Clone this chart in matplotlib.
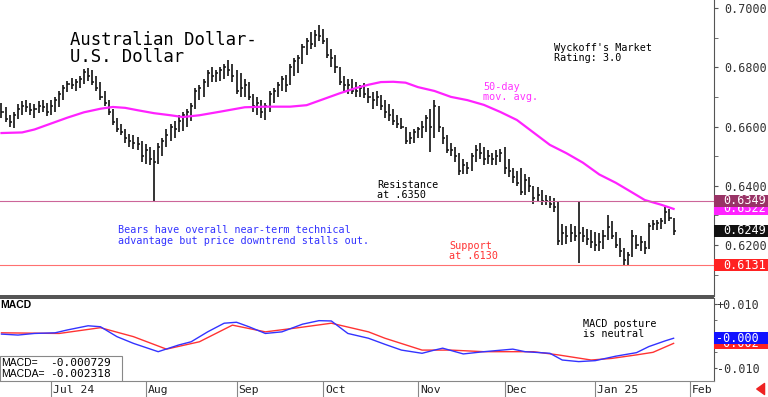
import matplotlib
matplotlib.use("Agg")
import matplotlib.pyplot as plt
import matplotlib.transforms as mtransforms
from matplotlib.patches import Rectangle
from matplotlib.ticker import FixedLocator, FormatStrFormatter
import pandas as pd

plt.rcParams['font.family'] = ['DejaVu Sans Mono']

# ---- data (daily bars, trading-day index 0 = 2024-06-13) ----
start_date = '2024-06-13'
highs = [.6680, .6665, .6640, .6650, .6675, .6685, .6690, .6680, .6675, .6685,
         .6690, .6680, .6690, .6700, .6720, .6740, .6755, .6765, .6760, .6770,
         .6795, .6798, .6790, .6770, .6750, .6720, .6690, .6660, .6630, .6610,
         .6590, .6575, .6570, .6565, .6550, .6540, .6530, .6520, .6545, .6560,
         .6590, .6610, .6620, .6640, .6650, .6660, .6680, .6730, .6740, .6760,
         .6790, .6800, .6790, .6800, .6810, .6824, .6810, .6790, .6780, .6760,
         .6750, .6710, .6700, .6690, .6680, .6720, .6730, .6750, .6770, .6775,
         .6810, .6830, .6840, .6880, .6900, .6920, .6925, .6942, .6930, .6900,
         .6860, .6840, .6800, .6770, .6760, .6760, .6750, .6740, .6747, .6730,
         .6716, .6720, .6705, .6690, .6675, .6660, .6640, .6630, .6600, .6580,
         .6590, .6600, .6620, .6640, .6660, .6688, .6670, .6600, .6570, .6545,
         .6530, .6510, .6490, .6480, .6510, .6537, .6545, .6530, .6520, .6510,
         .6520, .6525, .6530, .6490, .6460, .6450, .6460, .6440, .6430, .6400,
         .6395, .6385, .6370, .6365, .6360, .6345, .6270, .6265, .6270, .6265,
         .6350, .6260, .6255, .6250, .6245, .6240, .6250, .6300, .6280, .6245,
         .6225, .6190, .6175, .6250, .6235, .6230, .6215, .6275, .6285, .6285,
         .6290, .6328, .6320, .6290]
lows = [.6630, .6615, .6600, .6595, .6625, .6640, .6650, .6640, .6630, .6645,
        .6650, .6635, .6640, .6650, .6665, .6690, .6715, .6725, .6720, .6730,
        .6745, .6755, .6740, .6720, .6690, .6670, .6640, .6605, .6580, .6570,
        .6545, .6530, .6525, .6520, .6480, .6475, .6470, .6348, .6475, .6500,
        .6530, .6550, .6560, .6580, .6585, .6600, .6620, .6660, .6690, .6700,
        .6735, .6750, .6750, .6755, .6760, .6770, .6750, .6710, .6700, .6700,
        .6690, .6650, .6640, .6630, .6622, .6650, .6680, .6700, .6720, .6715,
        .6740, .6770, .6780, .6810, .6840, .6860, .6870, .6890, .6880, .6830,
        .6800, .6780, .6740, .6720, .6710, .6710, .6700, .6700, .6696, .6680,
        .6660, .6670, .6656, .6630, .6620, .6605, .6595, .6590, .6540, .6540,
        .6545, .6560, .6560, .6580, .6515, .6560, .6580, .6540, .6510, .6500,
        .6480, .6436, .6440, .6440, .6450, .6480, .6490, .6470, .6475, .6470,
        .6470, .6480, .6440, .6430, .6410, .6400, .6370, .6370, .6380, .6340,
        .6345, .6335, .6335, .6325, .6310, .6200, .6200, .6205, .6210, .6215,
        .6140, .6210, .6200, .6190, .6180, .6180, .6185, .6217, .6220, .6190,
        .6160, .6131, .6131, .6160, .6185, .6180, .6170, .6185, .6250, .6250,
        .6255, .6270, .6280, .6235]
closes = [.6650, .6625, .6615, .6640, .6660, .6670, .6665, .6655, .6660, .6670,
          .6665, .6650, .6670, .6690, .6710, .6730, .6745, .6740, .6750, .6760,
          .6785, .6770, .6750, .6730, .6700, .6680, .6650, .6615, .6590, .6580,
          .6560, .6550, .6545, .6540, .6500, .6520, .6490, .6480, .6530, .6550,
          .6570, .6600, .6590, .6620, .6640, .6650, .6670, .6720, .6730, .6750,
          .6780, .6770, .6780, .6790, .6800, .6790, .6770, .6720, .6730, .6740,
          .6700, .6670, .6680, .6650, .6670, .6710, .6720, .6740, .6760, .6740,
          .6800, .6820, .6830, .6870, .6890, .6880, .6910, .6905, .6890, .6840,
          .6830, .6800, .6750, .6740, .6740, .6720, .6720, .6730, .6710, .6700,
          .6690, .6700, .6670, .6650, .6640, .6620, .6610, .6600, .6550, .6560,
          .6580, .6590, .6600, .6630, .6600, .6670, .6600, .6560, .6520, .6520,
          .6500, .6450, .6470, .6460, .6500, .6520, .6510, .6490, .6500, .6490,
          .6500, .6510, .6460, .6450, .6430, .6410, .6380, .6420, .6400, .6360,
          .6370, .6350, .6350, .6340, .6330, .6215, .6240, .6230, .6240, .6230,
          .6240, .6230, .6220, .6210, .6200, .6210, .6230, .6260, .6230, .6200,
          .6180, .6150, .6165, .6230, .6200, .6210, .6190, .6265, .6270, .6275,
          .6280, .6310, .6290, .6249]

ma_idx = [0, 5, 8, 12, 16, 20, 24, 27, 30, 33, 37, 41, 44, 48, 53, 59, 64, 70,
          74, 78, 82, 86, 89, 92, 95, 98, 101, 105, 109, 113, 117, 121, 125,
          129, 133, 137, 141, 145, 149, 153, 156, 160, 163]
ma_vals = [.6578, .6580, .6590, .6610, .6630, .6648, .6660, .6666, .6663, .6655,
           .6645, .6638, .6632, .6638, .6650, .6665, .6667, .6667, .6672, .6692,
           .6712, .6730, .6741, .6750, .6751, .6748, .6733, .6720, .6700, .6689,
           .6673, .6649, .6622, .6580, .6538, .6510, .6478, .6438, .6410, .6377,
           .6352, .6336, .6322]

macd_idx = [0, 4, 8, 13, 16, 21, 24, 28, 32, 38, 43, 46, 50, 54, 57, 60, 64, 68,
            73, 77, 80, 84, 89, 93, 97, 102, 105, 107, 112, 117, 124, 127, 133,
            136, 140, 144, 149, 154, 157, 161, 163]
macd_vals = [.0006, .0003, .0008, .0010, .0019, .0032, .0029, -.0002, -.0023,
             -.0049, -.0028, -.0018, .0013, .0040, .0043, .0029, .0008, .0013,
             .0037, .0048, .0047, .0008, -.0007, -.0026, -.0044, -.0054, -.0044,
             -.0038, -.0056, -.0049, -.0041, -.0049, -.0054, -.0075, -.0080,
             -.0077, -.0063, -.0052, -.0033, -.0015, -.0007]
sig_idx = [0, 14, 24, 32, 40, 48, 56, 64, 72, 80, 89, 93, 102, 109, 117, 129,
           135, 143, 148, 154, 158, 163]
sig_vals = [.0010, .0008, .0026, -.0002, -.0041, -.0018, .0034, .0013, .0026,
            .0040, .0013, -.0007, -.0044, -.0044, -.0049, -.0049, -.0059, -.0075,
            -.0070, -.0059, -.0051, -.0023]

resistance = 0.6349
support = 0.6131
last_close = 0.6249
last_ma = 0.6322
macd_last = -0.000729
macda_last = -0.002318
price_ticks = [0.62, 0.64, 0.66, 0.68, 0.70]
month_names = ['Jul 24', 'Aug', 'Sep', 'Oct', 'Nov', 'Dec', 'Jan 25', 'Feb']

# ---- layout helpers (pixel -> figure fraction) ----
W, H = 768, 397
def fx(x): return x / W
def fy(y): return 1 - y / H

def trunc3(v):
    # chart shows the value cut to 3 decimals, not rounded
    s = f'{v:.6f}'
    return s[:s.index('.') + 4]

fig = plt.figure(figsize=(7.68, 3.97), dpi=100)
ax_p = fig.add_axes([0, fy(296), fx(714), fy(0) - fy(296)])
ax_m = fig.add_axes([0, fy(381), fx(714), fy(298) - fy(381)])
ax_d = fig.add_axes([0, 0, fx(714), fy(381)])

xlim = (-0.36, 172.8)
n = len(closes)
xs = list(range(n))

# ---- price panel ----
ax_p.vlines(xs, lows, highs, color='#111111', lw=1.2)
ax_p.hlines(closes, [x for x in xs], [x + 0.5 for x in xs], color='#111111', lw=1.1)
ax_p.plot(ma_idx, ma_vals, color='#ff22ff', lw=1.6)
ax_p.axhline(resistance, color='#cc6699', lw=0.8)
ax_p.axhline(support, color='#ff7070', lw=0.8)
ax_p.set_xlim(*xlim)
ax_p.set_ylim(0.6028, 0.7027)
for s in ['top', 'left', 'bottom']:
    ax_p.spines[s].set_visible(False)
ax_p.spines['right'].set_color('#555555')
ax_p.set_xticks([])
ax_p.yaxis.tick_right()
ax_p.yaxis.set_major_locator(FixedLocator(price_ticks))
ax_p.yaxis.set_minor_locator(FixedLocator([0.61, 0.63, 0.65, 0.67, 0.69]))
ax_p.yaxis.set_major_formatter(FormatStrFormatter('%.4f'))
ax_p.tick_params(axis='y', which='both', direction='out', length=3,
                 color='#555555', labelsize=8.5, labelcolor='#333333', pad=4.5)

def label_box(ax, y, text, fc, px_per_unit, xt, z, tc='white'):
    tr = mtransforms.blended_transform_factory(ax.transAxes, ax.transData)
    h = 12 / px_per_unit
    ax.add_patch(Rectangle((1.0, y - h / 2), 54 / 714, h, transform=tr,
                           fc=fc, ec='none', clip_on=False, zorder=z))
    ax.text(xt, y, text, transform=tr, color=tc, fontsize=8.5, va='center',
            ha='left', clip_on=False, zorder=z + 0.5)

ppu_p = 296 / (0.7027 - 0.6028)
label_box(ax_p, last_ma, f'{last_ma:.4f}', '#ff22ff', ppu_p, 723 / 714, 10)
label_box(ax_p, resistance, f'{resistance:.4f}', '#993366', ppu_p, 723 / 714, 12)
label_box(ax_p, last_close, f'{last_close:.4f}', '#111111', ppu_p, 723 / 714, 12)
label_box(ax_p, support, f'{support:.4f}', '#ff2222', ppu_p, 723 / 714, 12)

# ---- MACD panel ----
ax_m.plot(sig_idx, sig_vals, color='#ff3333', lw=1.0)
ax_m.plot(macd_idx, macd_vals, color='#3333ff', lw=1.0)
ax_m.set_xlim(*xlim)
ax_m.set_ylim(-0.01406, 0.01188)
for s in ['top', 'left']:
    ax_m.spines[s].set_visible(False)
ax_m.spines['right'].set_color('#555555')
ax_m.spines['bottom'].set_color('#888888')
ax_m.set_xticks([])
ax_m.yaxis.tick_right()
ax_m.set_yticks([0.01, -0.01])
ax_m.set_yticklabels(['+0.010', '-0.010'])
ax_m.yaxis.set_minor_locator(FixedLocator([-0.005, 0.0, 0.005]))
ax_m.tick_params(axis='y', which='both', direction='out', length=2,
                 color='#555555', labelsize=8.5, labelcolor='#333333', pad=0)

ppu_m = 83 / (0.01188 + 0.01406)
label_box(ax_m, macda_last, trunc3(macda_last), '#ff2222', ppu_m, 716 / 714, 10)
label_box(ax_m, macd_last, trunc3(macd_last), '#1111ff', ppu_m, 716 / 714, 12)

ax_m.text(0.0, (381 - 308) / 83, 'MACD', transform=ax_m.transAxes,
          family='Liberation Sans', weight='bold', fontsize=7.5, va='baseline')
ax_m.add_patch(Rectangle((0, 0), 122 / 714, (381 - 356) / 83, transform=ax_m.transAxes,
                         fc='white', ec='#888888', lw=0.8, zorder=5))
ax_m.text(1 / 714, (381 - 366) / 83, 'MACD=', transform=ax_m.transAxes,
          family='Liberation Sans', fontsize=7.5, va='baseline', zorder=6)
ax_m.text(1 / 714, (381 - 377) / 83, 'MACDA=', transform=ax_m.transAxes,
          family='Liberation Sans', fontsize=7.5, va='baseline', zorder=6)
ax_m.text(50 / 714, (381 - 366) / 83, f'{macd_last:.6f}', transform=ax_m.transAxes,
          fontsize=8, va='baseline', zorder=6)
ax_m.text(50 / 714, (381 - 377) / 83, f'{macda_last:.6f}', transform=ax_m.transAxes,
          fontsize=8, va='baseline', zorder=6)

# ---- date strip ----
dates = pd.bdate_range(start_date, periods=175)
month_pos = [i for i in range(1, len(dates)) if dates[i].month != dates[i - 1].month]
ax_d.set_xlim(*xlim)
ax_d.set_ylim(0, 1)
ax_d.axis('off')
for pos, name in zip(month_pos, month_names):
    ax_d.axvline(pos, color='#888888', lw=0.8)
    ax_d.text(pos + 0.5, 4 / 16, name, fontsize=8.2, va='baseline', ha='left',
              color='#222222')

# separator band between panels
fig.patches.append(Rectangle((0, fy(298.5)), fx(714), fy(295) - fy(298.5),
                             transform=fig.transFigure, fc='#555555', ec='none'))

# ---- annotations ----
fig.text(fx(70), fy(45), 'Australian Dollar-', fontsize=12.4, va='baseline')
fig.text(fx(70), fy(62), 'U.S. Dollar', fontsize=12.4, va='baseline')
fig.text(fx(554), fy(51), "Wyckoff's Market", fontsize=7.3, va='baseline')
fig.text(fx(554), fy(61), 'Rating: 3.0', fontsize=7.3, va='baseline')
fig.text(fx(483), fy(89.5), '50-day', fontsize=7.3, va='baseline', color='#ff33ff')
fig.text(fx(483), fy(100), 'mov. avg.', fontsize=7.3, va='baseline', color='#ff33ff')
fig.text(fx(377), fy(188), 'Resistance', fontsize=7.3, va='baseline')
fig.text(fx(377), fy(198), 'at .6350', fontsize=7.3, va='baseline')
fig.text(fx(449), fy(249), 'Support', fontsize=7.3, va='baseline', color='#ff3333')
fig.text(fx(449), fy(259), 'at .6130', fontsize=7.3, va='baseline', color='#ff3333')
fig.text(fx(118), fy(233), 'Bears have overall near-term technical',
         fontsize=7.3, va='baseline', color='#3333ff')
fig.text(fx(118), fy(244), 'advantage but price downtrend stalls out.',
         fontsize=7.3, va='baseline', color='#3333ff')
fig.text(fx(583), fy(327), 'MACD posture', fontsize=7.3, va='baseline')
fig.text(fx(583), fy(337), 'is neutral', fontsize=7.3, va='baseline')

ax_d.annotate('', xy=(754, 8), xytext=(767, 8), xycoords='figure pixels',
              textcoords='figure pixels',
              arrowprops=dict(arrowstyle='simple,head_width=1.0,head_length=0.7,tail_width=0.4',
                              color='#ee2222', mutation_scale=8))

fig.savefig('out.png', dpi=100)
